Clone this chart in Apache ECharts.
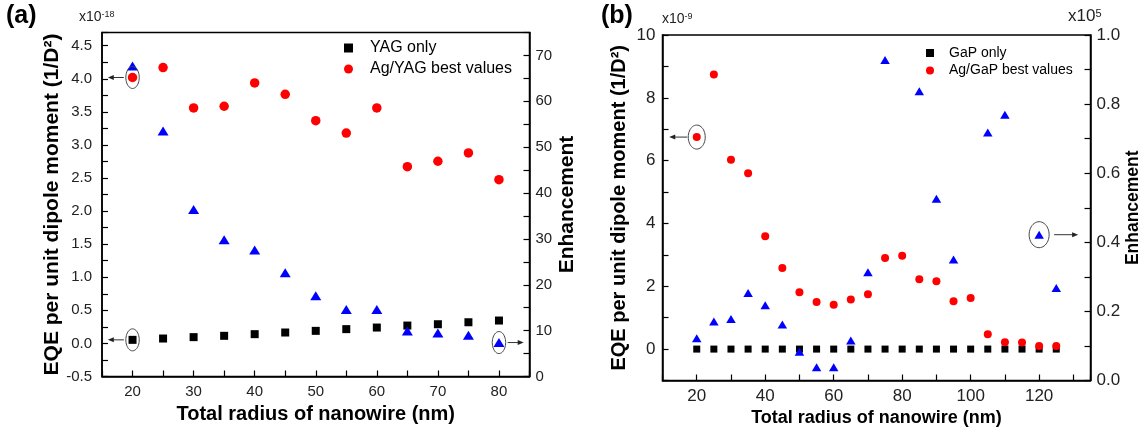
<!DOCTYPE html>
<html><head><meta charset="utf-8">
<script src="https://cdn.jsdelivr.net/npm/echarts@6/dist/echarts.min.js"></script>
<style>html,body{margin:0;padding:0;background:#fff}#c{width:1145px;height:434px}</style>
</head><body><div id="c"></div>
<script>
// ---------- Panel (a) data ----------
const radiusA = [20, 25, 30, 35, 40, 45, 50, 55, 60, 65, 70, 75, 80];
const yagOnly = [0.054, 0.074, 0.095, 0.115, 0.14, 0.165, 0.19, 0.216, 0.24, 0.27, 0.29, 0.32, 0.346];
const agYagBest = [4.02, 4.17, 3.56, 3.585, 3.937, 3.766, 3.367, 3.18, 3.56, 2.672, 2.754, 2.879, 2.476];
const enhancementA = [67.7, 53.5, 36.4, 29.8, 27.6, 22.6, 17.6, 14.6, 14.6, 9.9, 9.5, 9.0, 7.4];

// ---------- Panel (b) data ----------
const radiusB = [20, 25, 30, 35, 40, 45, 50, 55, 60, 65, 70, 75, 80, 85, 90, 95, 100, 105, 110, 115, 120, 125];
const gapOnly = [0, 0, 0, 0, 0, 0, 0, 0, 0, 0, 0, 0, 0, 0, 0, 0, 0, 0, 0, 0, 0, 0];
const agGapBest = [6.75, 8.74, 6.03, 5.60, 3.59, 2.58, 1.81, 1.50, 1.41, 1.58, 1.75, 2.90, 2.97, 2.22, 2.16, 1.52, 1.63, 0.47, 0.22, 0.21, 0.10, 0.095];
// enhancement in units of 1e5 (null = no point)
const enhancementB = [0.122, 0.171, 0.178, 0.253, 0.218, 0.162, 0.083, 0.038, 0.038, 0.116, 0.313, 0.928, null, 0.837, 0.526, 0.350, null, 0.718, 0.769, null, 0.422, 0.268];

// ---------- Texts ----------
const legendA = ['YAG only', 'Ag/YAG best values'];
const legendB = ['GaP only', 'Ag/GaP best values'];
const xTitle = 'Total radius of nanowire (nm)';
const yTitle = 'EQE per unit dipole moment (1/D\u00B2)';
const y2Title = 'Enhancement';

const FONT = 'Liberation Sans, Arial, Helvetica, sans-serif';
const pair = (xs, ys) => xs.map((x, i) => [x, ys[i]]).filter(p => p[1] !== null);

// annotation anchors (data points that are circled)
const annALeft = [[radiusA[0], agYagBest[0], -1], [radiusA[0], yagOnly[0], -1]];
const annARight = [[radiusA[12], enhancementA[12], 1]];
const annBLeft = [[radiusB[0], agGapBest[0], -1]];
const annBRight = [[radiusB[20], enhancementB[20], 1]];

function annRender(rx, ry, gap, len) {
  return function (params, api) {
    const p = api.coord([api.value(0), api.value(1)]);
    const dir = api.value(2);
    const pts = [];
    for (let i = 0; i <= 48; i++) {
      const t = i / 48 * Math.PI * 2;
      pts.push([p[0] + rx * Math.cos(t), p[1] + ry * Math.sin(t)]);
    }
    const x0 = p[0] + dir * (rx + gap);
    const x1 = x0 + dir * len;
    const y = p[1];
    return {
      type: 'group',
      children: [
        { type: 'polyline', shape: { points: pts }, style: { stroke: '#444', lineWidth: 1, fill: null } },
        { type: 'line', shape: { x1: x0, y1: y, x2: x1 - dir * 4, y2: y }, style: { stroke: '#333', lineWidth: 1 } },
        { type: 'polygon', shape: { points: [[x1, y], [x1 - dir * 6, y - 2.5], [x1 - dir * 6, y + 2.5]] }, style: { fill: '#222' } }
      ]
    };
  };
}

const axisLineStyle = { show: true, onZero: false, lineStyle: { color: '#000', width: 1.5 } };
const tickIn = (len) => ({ show: true, inside: true, length: len, lineStyle: { color: '#000', width: 1.2 } });
const near = (v, step) => Math.abs(v / step - Math.round(v / step)) < 1e-6;

const chart = echarts.init(document.getElementById('c'), null, { renderer: 'canvas' });
chart.setOption({
  animation: false,
  backgroundColor: '#fff',
  textStyle: { fontFamily: FONT },
  grid: [
    { left: 102, top: 32.5, width: 427.5, height: 344, show: true, borderColor: '#000', borderWidth: 1.5, backgroundColor: 'transparent' },
    { left: 662.5, top: 35, width: 428, height: 345.5, show: true, borderColor: '#000', borderWidth: 1.5, backgroundColor: 'transparent' }
  ],
  legend: [
    {
      data: legendA, orient: 'vertical', left: 339, top: 35, itemWidth: 9, itemHeight: 9, itemGap: 5,
      textStyle: { fontSize: 16, color: '#000', fontFamily: FONT, padding: [0, 0, 0, 12] }, selectedMode: false
    },
    {
      data: legendB, orient: 'vertical', left: 921, top: 41, itemWidth: 8, itemHeight: 8, itemGap: 3.5,
      textStyle: { fontSize: 14, color: '#000', fontFamily: FONT, padding: [0, 0, 0, 10] }, selectedMode: false
    }
  ],
  xAxis: [
    {
      gridIndex: 0, type: 'value', min: 15, max: 85, interval: 5,
      axisLine: axisLineStyle, axisTick: tickIn(6), splitLine: { show: false },
      axisLabel: { margin: 8, fontSize: 15, color: '#222', formatter: v => near(v, 10) && v > 15 && v < 85 ? String(v) : '' },
      name: xTitle, nameLocation: 'middle', nameGap: 27,
      nameTextStyle: { fontSize: 20, fontWeight: 'bold', color: '#000', fontFamily: FONT }
    },
    {
      gridIndex: 1, type: 'value', min: 10, max: 135, interval: 10,
      axisLine: axisLineStyle, axisTick: tickIn(6), splitLine: { show: false },
      axisLabel: { margin: 7, fontSize: 17, color: '#222', formatter: v => near(v, 20) ? String(v) : '' },
      name: xTitle, nameLocation: 'middle', nameGap: 29,
      nameTextStyle: { fontSize: 18, fontWeight: 'bold', color: '#000', fontFamily: FONT }
    }
  ],
  yAxis: [
    {
      gridIndex: 0, type: 'value', position: 'left', min: -0.5, max: 4.7, interval: 0.25,
      axisLine: axisLineStyle, axisTick: tickIn(6), splitLine: { show: false },
      axisLabel: { margin: 10, fontSize: 15, color: '#222', formatter: v => near(v, 0.5) && v < 4.6 ? v.toFixed(1) : '' },
      name: yTitle, nameLocation: 'middle', nameGap: 38, nameRotate: 90,
      nameTextStyle: { fontSize: 21, fontWeight: 'bold', color: '#000', fontFamily: FONT }
    },
    {
      gridIndex: 0, type: 'value', position: 'right', min: 0, max: 75, interval: 5,
      axisLine: axisLineStyle, axisTick: tickIn(6), splitLine: { show: false },
      axisLabel: { margin: 6, fontSize: 15, color: '#222', formatter: v => near(v, 10) ? String(v) : '' },
      name: y2Title, nameLocation: 'middle', nameGap: 27, nameRotate: 90,
      nameTextStyle: { fontSize: 21, fontWeight: 'bold', color: '#000', fontFamily: FONT }
    },
    {
      gridIndex: 1, type: 'value', position: 'left', min: -1, max: 10, interval: 1,
      axisLine: axisLineStyle, axisTick: tickIn(6), splitLine: { show: false },
      axisLabel: { margin: 7, fontSize: 17, color: '#222', formatter: v => v >= 0 && near(v, 2) ? String(v) : '' },
      name: yTitle, nameLocation: 'middle', nameGap: 33, nameRotate: 90,
      nameTextStyle: { fontSize: 20, fontWeight: 'bold', color: '#000', fontFamily: FONT }
    },
    {
      gridIndex: 1, type: 'value', position: 'right', min: 0, max: 1, interval: 0.1,
      axisLine: axisLineStyle, axisTick: tickIn(6), splitLine: { show: false },
      axisLabel: { margin: 6, fontSize: 17, color: '#222', formatter: v => near(v, 0.2) ? v.toFixed(1) : '' },
      name: y2Title, nameLocation: 'middle', nameGap: 31, nameRotate: 90,
      nameTextStyle: { fontSize: 17.5, fontWeight: 'bold', color: '#000', fontFamily: FONT }
    }
  ],
  series: [
    { name: legendA[0], type: 'scatter', xAxisIndex: 0, yAxisIndex: 0, symbol: 'rect', symbolSize: 8, itemStyle: { color: '#000', opacity: 1 }, data: pair(radiusA, yagOnly) },
    { name: legendA[1], type: 'scatter', xAxisIndex: 0, yAxisIndex: 0, symbol: 'circle', symbolSize: 9.5, itemStyle: { color: '#ff0000', opacity: 1 }, data: pair(radiusA, agYagBest) },
    { name: 'Enhancement (a)', type: 'scatter', xAxisIndex: 0, yAxisIndex: 1, symbol: 'triangle', symbolSize: [11, 9], itemStyle: { color: '#0000ff', opacity: 1 }, data: pair(radiusA, enhancementA) },
    { name: legendB[0], type: 'scatter', xAxisIndex: 1, yAxisIndex: 2, symbol: 'rect', symbolSize: 7, itemStyle: { color: '#000', opacity: 1 }, data: pair(radiusB, gapOnly) },
    { name: legendB[1], type: 'scatter', xAxisIndex: 1, yAxisIndex: 2, symbol: 'circle', symbolSize: 8, itemStyle: { color: '#ff0000', opacity: 1 }, data: pair(radiusB, agGapBest) },
    { name: 'Enhancement (b)', type: 'scatter', xAxisIndex: 1, yAxisIndex: 3, symbol: 'triangle', symbolSize: [9.5, 8], itemStyle: { color: '#0000ff', opacity: 1 }, data: pair(radiusB, enhancementB) },
    { type: 'custom', xAxisIndex: 0, yAxisIndex: 0, renderItem: annRender(6.7, 11, 2, 16), data: annALeft, z: 5, silent: true },
    { type: 'custom', xAxisIndex: 0, yAxisIndex: 1, renderItem: annRender(6.7, 11, 2, 16), data: annARight, z: 5, silent: true },
    { type: 'custom', xAxisIndex: 1, yAxisIndex: 2, renderItem: annRender(8.5, 12, 1, 18), data: annBLeft, z: 5, silent: true },
    { type: 'custom', xAxisIndex: 1, yAxisIndex: 3, renderItem: annRender(10, 13, 5, 24), data: annBRight, z: 5, silent: true }
  ],
  graphic: [
    { type: 'text', left: 6, top: 4, style: { text: '(a)', font: 'bold 25px ' + FONT, fill: '#000' } },
    { type: 'text', left: 601, top: 4, style: { text: '(b)', font: 'bold 25px ' + FONT, fill: '#000' } },
    { type: 'text', left: 79, top: 10, style: { text: 'x10{s|-18}', font: '14px ' + FONT, fill: '#222', rich: { s: { fontSize: 9, verticalAlign: 'top', fill: '#222', fontFamily: FONT } } } },
    { type: 'text', left: 662, top: 12, style: { text: 'x10{s|-9}', font: '14px ' + FONT, fill: '#222', rich: { s: { fontSize: 9, verticalAlign: 'top', fill: '#222', fontFamily: FONT } } } },
    { type: 'text', left: 1068, top: 8, style: { text: 'x10{s|5}', font: '17px ' + FONT, fill: '#222', rich: { s: { fontSize: 11, verticalAlign: 'top', fill: '#222', fontFamily: FONT } } } }
  ]
});
</script>
</body></html>
